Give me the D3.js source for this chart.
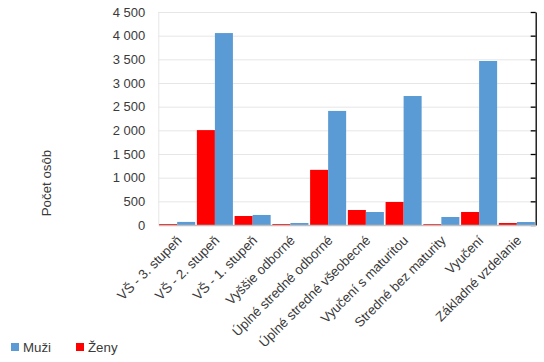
<!DOCTYPE html>
<html><head><meta charset="utf-8">
<script src="https://cdn.jsdelivr.net/npm/d3@7/dist/d3.min.js"></script>
<style>body{margin:0;background:#fff}svg{display:block}text{font-family:"Liberation Sans",Arial,sans-serif;fill:#3a3a3a}</style>
</head><body>
<svg id="c" width="544" height="362"></svg>
<script>
const categories = ["VŠ - 3. stupeň","VŠ - 2. stupeň","VŠ - 1. stupeň","Vyššie odborné","Úplné stredné odborné","Úplné stredné všeobecné","Vyučení s maturitou","Stredné bez maturity","Vyučení","Základné vzdelanie"];
const seriesNames = ["Ženy","Muži"];
const zeny = [20, 2005, 190, 20, 1165, 317, 486, 18, 275, 42];
const muzi = [65, 4055, 212, 42, 2410, 275, 2725, 169, 3465, 63];
const yTicks = [0,500,1000,1500,2000,2500,3000,3500,4000,4500];
const colors = {"Ženy":"#ff0000","Muži":"#5b9bd5"};
const legendOrder = ["Muži","Ženy"];

const svg = d3.select("#c");
const L = 158.3, R = 535.7, T = 12, B = 225;
const x = d3.scaleBand().domain(categories).range([L,R]).paddingInner(0.045).paddingOuter(0.022);
const xs = d3.scaleBand().domain(seriesNames).range([0,x.bandwidth()]);
const y = d3.scaleLinear().domain([0,4500]).range([B,T]);
const loc = d3.formatLocale({decimal:",",thousands:"\u00a0",grouping:[3],currency:["",""]});
const fmt = loc.format(",d");

// gridlines
svg.append("g").selectAll("line").data(yTicks.filter(d=>d>0)).join("line")
  .attr("x1",L).attr("x2",R).attr("y1",d=>y(d)+0.5).attr("y2",d=>y(d)+0.5)
  .attr("stroke","#e6e6e6").attr("stroke-width",1);
svg.append("line").attr("x1",L+0.5).attr("x2",L+0.5).attr("y1",T).attr("y2",B).attr("stroke","#e6e6e6");

// y tick labels
const yAxis = d3.axisLeft(y).tickValues(yTicks).tickFormat(fmt).tickSize(0).tickPadding(13);
const ga = svg.append("g").attr("transform",`translate(${L},0)`).call(yAxis);
ga.select(".domain").remove();
ga.selectAll("text").style("font-size","13px").attr("fill","#3a3a3a").style("font-family","'Liberation Sans',Arial,sans-serif");

// right axis with ticks
const yR = d3.axisLeft(y).tickValues(yTicks).tickFormat("").tickSize(5).tickSizeOuter(0);
const gr = svg.append("g").attr("transform",`translate(${R},0)`).call(yR);
gr.selectAll("path,line").attr("stroke","#000").attr("stroke-width",1.3);

// bars
const data = categories.map((c,i)=>({c, vals:[{s:"Ženy",v:zeny[i]},{s:"Muži",v:muzi[i]}]}));
svg.append("g").selectAll("g").data(data).join("g")
  .attr("transform",d=>`translate(${x(d.c)},0)`)
  .selectAll("rect").data(d=>d.vals).join("rect")
  .attr("x",d=>xs(d.s)).attr("width",xs.bandwidth())
  .attr("y",d=>y(d.v)).attr("height",d=>B-y(d.v))
  .attr("fill",d=>colors[d.s]);

// x axis
const gx = svg.append("g").attr("transform",`translate(0,${B})`)
  .call(d3.axisBottom(x).tickSize(0).tickSizeOuter(0));
gx.select(".domain").attr("stroke","#bfbfbf").attr("stroke-width",1.3);
gx.selectAll("text").style("font-size","13.3px").attr("fill","#3a3a3a").style("font-family","'Liberation Sans',Arial,sans-serif")
  .attr("text-anchor","end").attr("dy","0.35em")
  .attr("transform","translate(2,13) rotate(-45)").attr("y",0).attr("x",0);

// y label
svg.append("text").attr("transform","translate(51,183) rotate(-90)").attr("text-anchor","middle")
  .style("font-size","13.3px").text("Počet osôb");

// legend
const lg = svg.append("g");
legendOrder.forEach((s,i)=>{
  const lx = 11 + i*65;
  lg.append("rect").attr("x",lx).attr("y",343).attr("width",8).attr("height",8).attr("fill",colors[s]);
  lg.append("text").attr("x",lx+12).attr("y",352).style("font-size","13.3px").text(s);
});
</script>
</body></html>
